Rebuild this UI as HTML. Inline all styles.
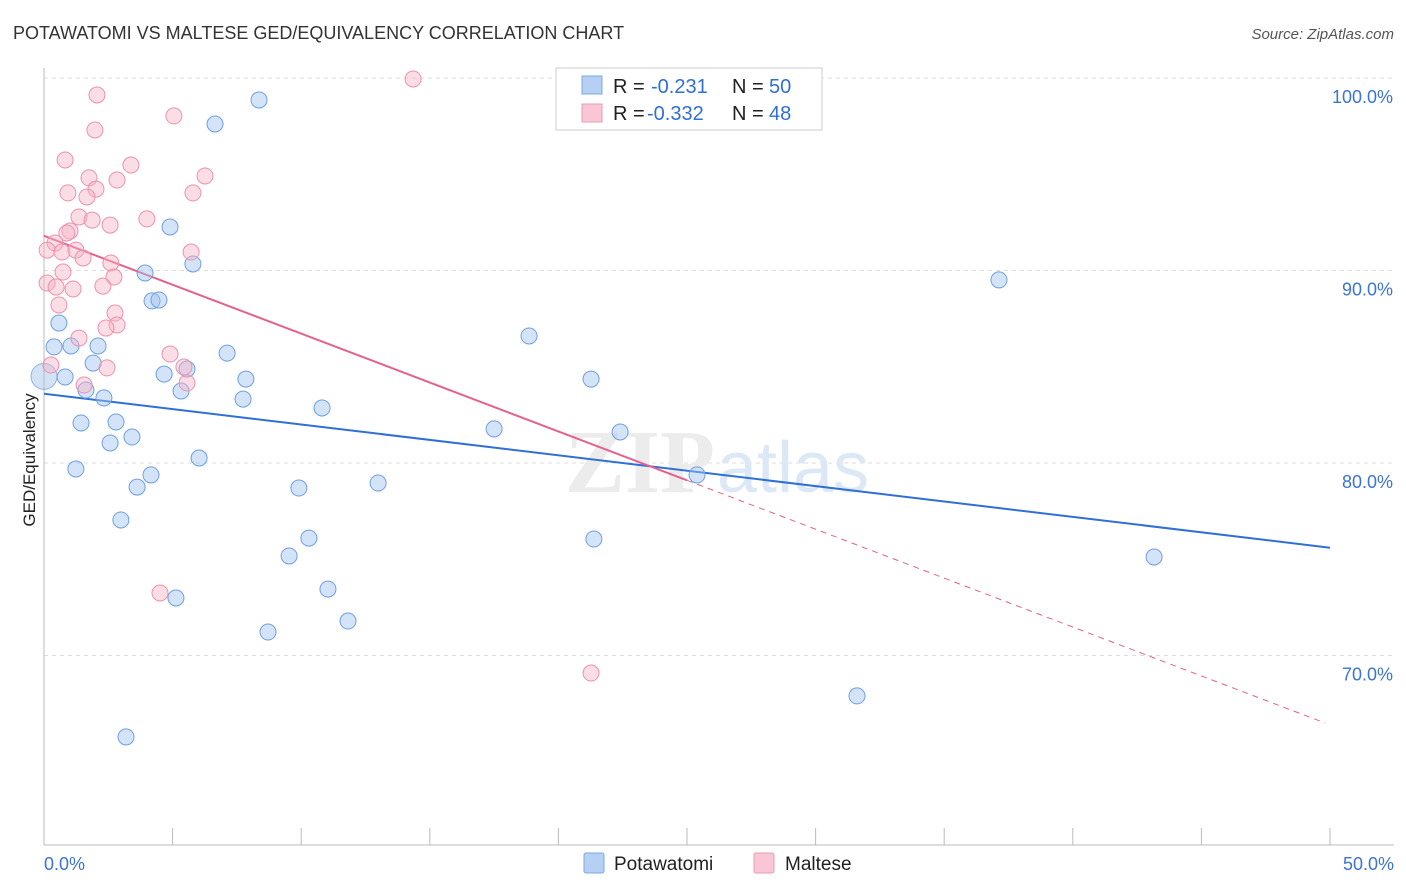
<!DOCTYPE html>
<html><head><meta charset="utf-8"><style>
body{margin:0;background:#fff;font-family:"Liberation Sans",sans-serif;}
svg{display:block}
</style></head><body>
<svg id="chart" width="1406" height="892">
<text x="13" y="39" font-size="18" fill="#333">POTAWATOMI VS MALTESE GED/EQUIVALENCY CORRELATION CHART</text>
<text x="1394" y="39" font-size="15" fill="#555" font-style="italic" text-anchor="end">Source: ZipAtlas.com</text>
<text x="35" y="460" font-size="17" fill="#222" text-anchor="middle" transform="rotate(-90 35 460)">GED/Equivalency</text>
<g id="grid"></g>
<text x="715" y="492" font-size="90" font-family="Liberation Serif,serif" fill="#ececec" text-anchor="end" font-weight="bold">ZIP</text>
<text x="717" y="492" font-size="72" fill="#dde8f6">atlas</text>
<g id="lines"></g>
<g id="points"></g>
<g>
<rect x="556" y="68" width="266" height="62" fill="#fff" stroke="#ccc"/>
<rect x="582" y="76" width="20" height="18" fill="#b6d0f3" stroke="#7ea8e0"/>
<text x="613" y="93" font-size="20" fill="#222">R =</text>
<text x="651" y="93" font-size="20" fill="#2f6fd6">-0.231</text>
<text x="732" y="93" font-size="20" fill="#222">N =</text>
<text x="769" y="93" font-size="20" fill="#2f6fd6">50</text>
<rect x="582" y="104" width="20" height="18" fill="#f9c6d5" stroke="#ec9ab4"/>
<text x="613" y="120" font-size="20" fill="#222">R =</text>
<text x="647" y="120" font-size="20" fill="#2f6fd6">-0.332</text>
<text x="732" y="120" font-size="20" fill="#222">N =</text>
<text x="769" y="120" font-size="20" fill="#2f6fd6">48</text>
</g>
<g>
<rect x="584" y="853" width="20" height="20" fill="#b6d0f3" stroke="#7ea8e0" rx="2"/>
<text x="614" y="870" font-size="19" fill="#222">Potawatomi</text>
<rect x="754" y="853" width="20" height="20" fill="#f9c6d5" stroke="#ec9ab4" rx="2"/>
<text x="785" y="870" font-size="19" fill="#222">Maltese</text>
</g>
</svg>
<script>
const yTicks=[100,90,80,70];
const xTickLabels=["0.0%","50.0%"];
const blueX=[8.36,6.65,4.90,5.79,3.93,4.20,4.47,0.58,0.39,1.05,2.10,7.12,1.91,4.67,5.56,0.82,7.85,1.63,5.33,2.33,7.74,10.81,1.44,2.80,3.42,2.57,1.24,6.03,4.16,3.62,9.91,12.99,2.99,10.30,9.53,11.04,5.13,11.82,8.71,3.19,18.86,21.27,17.50,22.40,25.39,21.38,37.13,43.16,31.61];
const blueY=[98.86,97.61,92.26,90.34,89.87,88.42,88.47,87.27,86.03,86.08,86.08,85.71,85.19,84.62,84.88,84.47,84.36,83.79,83.74,83.38,83.32,82.86,82.08,82.13,81.35,81.04,79.69,80.26,79.38,78.75,78.70,78.96,77.04,76.10,75.17,73.45,72.99,71.79,71.22,65.77,86.60,84.36,81.77,81.61,79.38,76.05,89.51,75.12,67.90];
const pinkX=[14.35,2.06,5.05,1.98,0.82,3.38,1.75,2.84,6.26,2.02,0.93,1.67,5.79,4.00,1.36,1.87,2.57,1.01,0.89,0.43,0.12,0.70,1.24,5.72,1.52,2.60,0.74,2.72,0.12,0.47,1.13,2.29,0.58,2.76,2.84,2.41,1.36,4.90,2.45,5.44,1.56,5.56,4.51,21.27,0.27];
const pinkY=[99.95,99.12,98.03,97.30,95.74,95.48,94.81,94.70,94.91,94.23,94.03,93.82,94.03,92.68,92.78,92.62,92.36,92.05,91.95,91.43,91.06,90.96,91.06,90.96,90.65,90.39,89.92,89.66,89.35,89.14,89.04,89.19,88.21,87.79,87.17,87.01,86.49,85.66,84.94,84.99,84.05,84.16,73.25,69.09,85.09];
const blueTrend=[83.6,75.6];
const pinkTrend=[91.8,79.1,66.5];
const X=v=>44+v*25.72, Y=v=>78+(100-v)*19.25;
const NS="http://www.w3.org/2000/svg";
function mk(t,a,p){const e=document.createElementNS(NS,t);for(const k in a)e.setAttribute(k,a[k]);p.appendChild(e);return e;}
const grid=document.getElementById('grid');
yTicks.forEach(t=>{
 const l=mk('line',{x1:44,x2:1394,y1:Y(t),y2:Y(t),stroke:'#ddd','stroke-dasharray':'4,4'},grid);
 
 
 const tx=mk('text',{x:1393,y:Y(t)+25,'font-size':18,fill:'#3b74d1','text-anchor':'end'},grid);
 tx.textContent=t.toFixed(1)+'%';
 
 
});
const ax=mk('line',{x1:44,x2:44,y1:68,y2:845,stroke:'#bbb'},grid);


const bx=mk('line',{x1:44,x2:1394,y1:845,y2:845,stroke:'#bbb'},grid);


for(let i=0;i<=10;i++){const t=mk('line',{x1:X(i*5),x2:X(i*5),y1:828,y2:845,stroke:'#bbb'},grid);
 
 }
xTickLabels.forEach((s,i)=>{const t=mk('text',{x:i?1394:44,y:870,'font-size':18,fill:'#3b74d1','text-anchor':i?'end':'start'},grid);t.textContent=s;
 
 });
const lines=document.getElementById('lines');
const bl=mk('line',{x1:X(0),y1:Y(blueTrend[0]),x2:X(50),y2:Y(blueTrend[1]),stroke:'#2f6fd6','stroke-width':2},lines);


const pl=mk('line',{x1:X(0),y1:Y(pinkTrend[0]),x2:X(25),y2:Y(pinkTrend[1]),stroke:'#e4618b','stroke-width':2},lines);


const pd=mk('line',{x1:X(25),y1:Y(pinkTrend[1]),x2:X(49.8),y2:Y(pinkTrend[2]),stroke:'#e4618b','stroke-width':1,'stroke-dasharray':'6,5'},lines);


const pts=document.getElementById('points');
const big=mk('circle',{cx:X(0),cy:Y(84.5),r:13,fill:'rgba(160,190,235,0.45)',stroke:'rgba(110,150,220,0.7)'},pts);


blueX.forEach((x,i)=>{const c=mk('circle',{cx:X(x),cy:Y(blueY[i]),r:8,fill:'rgba(160,195,240,0.45)',stroke:'#6f9fe0','stroke-width':1},pts);
 
 });
pinkX.forEach((x,i)=>{const c=mk('circle',{cx:X(x),cy:Y(pinkY[i]),r:8,fill:'rgba(247,180,200,0.45)',stroke:'#ec92ae','stroke-width':1},pts);
 
 });
</script>
</body></html>
